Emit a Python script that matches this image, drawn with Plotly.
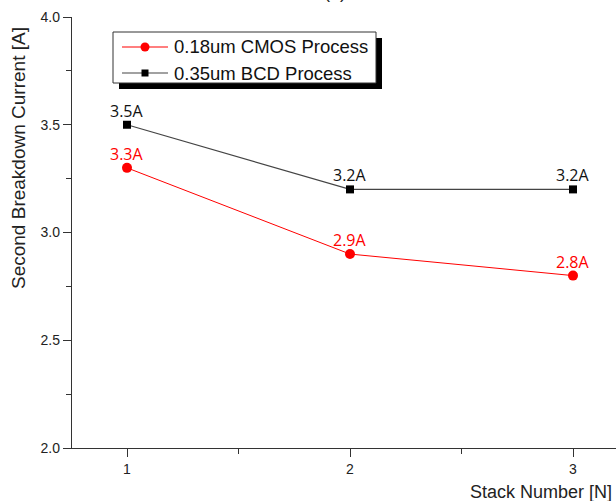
import plotly.graph_objects as go

stack = [1, 2, 3]
cmos = [3.3, 2.9, 2.8]
bcd = [3.5, 3.2, 3.2]
cmos_labels = ["3.3A", "2.9A", "2.8A"]
bcd_labels = ["3.5A", "3.2A", "3.2A"]
series_names = ["0.18um CMOS Process", "0.35um BCD Process"]
x_title = "Stack Number [N]"
y_title = "Second Breakdown Current [A]"

W, H = 616, 501
ML, MR, MT, MB = 72, 0, 17, 53
PW, PH = W - ML - MR, H - MT - MB

def px_x(p):
    return (p - ML) / PW

def px_y(p):
    return (H - MB - p) / PH

RED = "#ff0000"
GREY = "#444444"
ARIAL = "Liberation Sans, Arial, sans-serif"

fig = go.Figure()
fig.add_trace(go.Scatter(
    x=stack, y=cmos, name=series_names[0], mode="lines+markers",
    line=dict(color=RED, width=1),
    marker=dict(symbol="circle", size=10, color=RED),
))
fig.add_trace(go.Scatter(
    x=stack, y=bcd, name=series_names[1], mode="lines+markers",
    line=dict(color=GREY, width=1.2),
    marker=dict(symbol="square", size=8, color="#000000"),
))

label_font = "Open Sans, Noto Sans, sans-serif"
for xs, ys, labs, col in [(stack, cmos, cmos_labels, RED), (stack, bcd, bcd_labels, "#111111")]:
    for xv, yv, lab in zip(xs, ys, labs):
        fig.add_annotation(x=xv, y=yv, xref="x", yref="y", text=lab, showarrow=False,
                           xanchor="center", yanchor="bottom", yshift=1,
                           font=dict(family=label_font, size=16, color=col))

# hand-drawn legend (box with drop shadow)
def rect(x0, y0, x1, y1, **kw):
    fig.add_shape(type="rect", xref="paper", yref="paper",
                  x0=px_x(x0), x1=px_x(x1), y0=px_y(y1), y1=px_y(y0), layer="above", **kw)

rect(119, 38, 382, 89, fillcolor="#000000", line=dict(width=0))
rect(113, 32, 376, 83, fillcolor="#ffffff", line=dict(color="#333333", width=1))
legend_rows = [(47, RED, "circle", series_names[0]), (73, GREY, "square", series_names[1])]
for ry, col, sym, name in legend_rows:
    fig.add_shape(type="line", xref="paper", yref="paper", x0=px_x(122), x1=px_x(168),
                  y0=px_y(ry), y1=px_y(ry), line=dict(color=col, width=1.2), layer="above")
    if sym == "circle":
        fig.add_shape(type="circle", xref="paper", yref="paper", x0=px_x(140.5), x1=px_x(149.5),
                      y0=px_y(ry + 4.5), y1=px_y(ry - 4.5), fillcolor=RED, line=dict(width=0), layer="above")
    else:
        fig.add_shape(type="rect", xref="paper", yref="paper", x0=px_x(141.5), x1=px_x(148.5),
                      y0=px_y(ry + 3.5), y1=px_y(ry - 3.5), fillcolor="#000000", line=dict(width=0), layer="above")
    fig.add_annotation(x=px_x(172), y=px_y(ry), xref="paper", yref="paper", text=name,
                       showarrow=False, xanchor="left", yanchor="middle",
                       font=dict(family=ARIAL, size=18.5, color="#111111"))

fig.add_annotation(x=px_x(18), y=px_y(158), xref="paper", yref="paper", text=y_title,
                   textangle=-90, showarrow=False, xanchor="center", yanchor="middle",
                   font=dict(family=ARIAL, size=19, color="#222222"))
fig.add_annotation(x=px_x(614), y=px_y(492), xref="paper", yref="paper", text=x_title,
                   showarrow=False, xanchor="right", yanchor="middle",
                   font=dict(family=ARIAL, size=18, color="#222222"))
fig.add_annotation(x=px_x(335), y=px_y(4), xref="paper", yref="paper", text="(a)",
                   showarrow=False, xanchor="center", yanchor="bottom",
                   font=dict(family=ARIAL, size=18, color="#222222"))

axis_common = dict(showgrid=False, zeroline=False, showline=True, linecolor="#333333", linewidth=1.3,
                   ticks="outside", ticklen=8, tickwidth=1, tickcolor="#333333",
                   tickfont=dict(family=ARIAL, size=14, color="#222222"))
fig.update_xaxes(range=[1 - 55 / 223, 3 + 43 / 223], tickvals=stack, ticktext=[str(s) for s in stack],
                 minor=dict(dtick=0.5, tick0=0.5, ticks="outside", ticklen=5, tickcolor="#333333"),
                 **axis_common)
fig.update_yaxes(range=[2.0, 4.0], dtick=0.5, tickformat=".1f",
                 minor=dict(dtick=0.25, ticks="outside", ticklen=5, tickcolor="#333333"),
                 **axis_common)

fig.update_layout(
    width=W, height=H, margin=dict(l=ML, r=MR, t=MT, b=MB, pad=0),
    plot_bgcolor="white", paper_bgcolor="white",
    showlegend=False,
)
fig.write_html("out.html")
